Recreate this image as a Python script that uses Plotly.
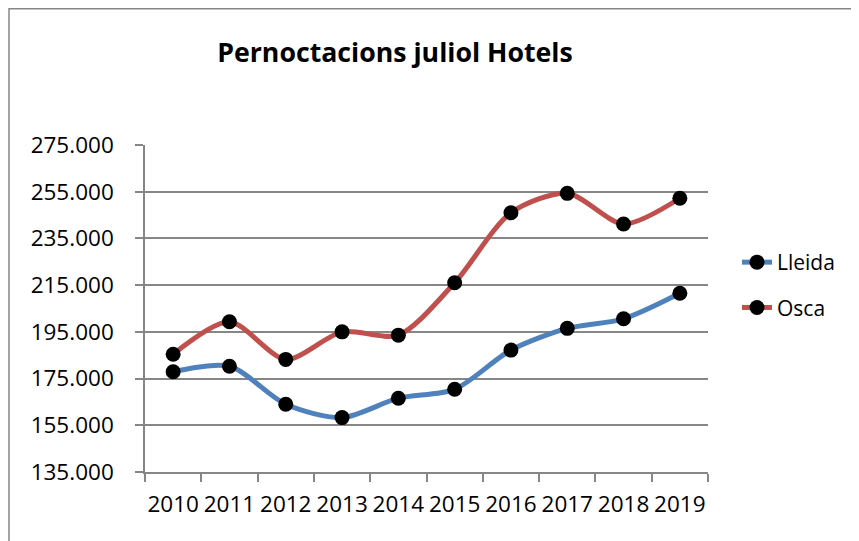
import plotly.graph_objects as go

# Dades llegides del gràfic original
anys = ['2010', '2011', '2012', '2013', '2014', '2015', '2016', '2017', '2018', '2019']
lleida = [177900, 180300, 164000, 158300, 166600, 170400, 187200, 196500, 200600, 211500]
osca = [185400, 199300, 183200, 195000, 193600, 216000, 246000, 254300, 241200, 252200]

FONT = 'Open Sans'
GRIS = '#868686'

# la pàgina afegeix 8 px de marge al body: tot va desplaçat 8 px
L, T, W, H = 137, 137, 563, 327

fig = go.Figure()

fig.add_trace(
    go.Scatter(
        x=anys,
        y=lleida,
        mode='lines+markers',
        name='Lleida',
        line=dict(color='#4F81BD', width=5, shape='spline', smoothing=0.8),
        marker=dict(color='black', size=15),
        legendgroup='a'
    )
)

fig.add_trace(
    go.Scatter(
        x=anys,
        y=osca,
        mode='lines+markers',
        name='Osca',
        line=dict(color='#C0504D', width=5, shape='spline', smoothing=0.8),
        marker=dict(color='black', size=15),
        legendgroup='b'
    )
)

fig.update_layout(
    width=859,
    height=541,
    margin=dict(l=L, r=859 - L - W, t=T, b=541 - T - H, autoexpand=False),
    paper_bgcolor='white',
    plot_bgcolor='white',
    separators=',.',
    font=dict(family=FONT, size=22, color='black'),
    title=dict(
        text='<b>Pernoctacions juliol Hotels</b>',
        x=387 / 859,
        xanchor='center',
        y=1 - 45 / 541,
        yanchor='middle',
        font=dict(family=FONT, size=26.7, color='black')
    ),
    xaxis=dict(
        type='category',
        range=[-0.5, len(anys) - 0.5],
        showgrid=False,
        showline=True,
        linecolor=GRIS,
        linewidth=1.5,
        ticks='outside',
        tickson='boundaries',
        ticklen=8,
        tickcolor=GRIS,
        tickwidth=1.5,
        tickangle=0,
        ticklabelstandoff=11,
        tickfont=dict(family=FONT, size=22.5)
    ),
    yaxis=dict(
        range=[135000, 275000],
        dtick=20000,
        tick0=135000,
        tickformat=',.0f',
        showgrid=True,
        gridcolor=GRIS,
        gridwidth=1.5,
        zeroline=False,
        showline=True,
        linecolor=GRIS,
        linewidth=1.5,
        ticks='outside',
        ticklen=8,
        tickcolor=GRIS,
        tickwidth=1.5,
        ticklabelstandoff=17,
        tickfont=dict(family=FONT, size=22.5)
    ),
    legend=dict(
        x=(729 - L) / W,
        xanchor='left',
        y=1 - (234 - T) / H,
        yanchor='top',
        tracegroupgap=15,
        font=dict(family=FONT, size=21),
        bgcolor='rgba(0,0,0,0)'
    ),
    showlegend=True
)

# Marc del gràfic (vores superior i esquerra)
fig.add_shape(
    type='rect',
    xref='paper', yref='paper',
    x0=(1 - L) / W, x1=2,
    y0=-1, y1=(T + H - 0.75) / H,
    line=dict(color=GRIS, width=1.5),
    layer='below'
)

fig.write_html("out.html")
